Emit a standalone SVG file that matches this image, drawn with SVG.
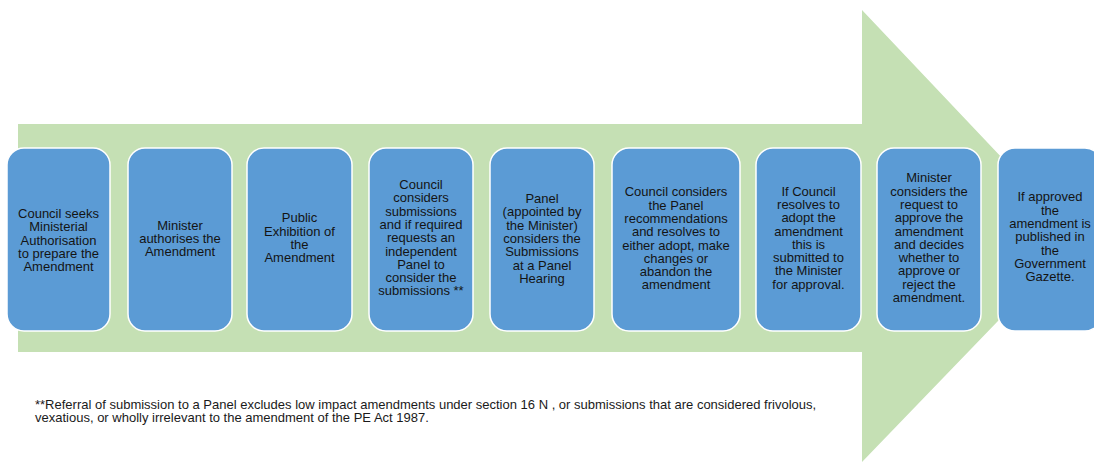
<svg xmlns="http://www.w3.org/2000/svg" width="1094" height="462" viewBox="0 0 1094 462">
  <style>
    .step rect { fill: #5B9BD5; stroke: #FFFFFF; stroke-width: 1.5; }
    .step text { font-family: "Liberation Sans", Arial, sans-serif; font-size: 13px; fill: #141414; text-anchor: middle; }
    .note { font-family: "Liberation Sans", Arial, sans-serif; font-size: 13px; fill: #1a1a1a; }
  </style>
  <rect width="1094" height="462" fill="#FFFFFF"/>

  <!-- large process arrow behind the steps -->
  <g id="connectors">
    <polygon points="18,124 862,124 862,10 1078,238 862,462 862,352 18,352" fill="#C5E0B4"/>
  </g>

  <g id="step1" class="step">
    <rect x="7" y="148" width="103" height="183" rx="17"/>
    <text y="218"><tspan x="58.5">Council seeks</tspan><tspan x="58.5" dy="13.3">Ministerial</tspan><tspan x="58.5" dy="13.3">Authorisation</tspan><tspan x="58.5" dy="13.3">to prepare the</tspan><tspan x="58.5" dy="13.3">Amendment</tspan></text>
  </g>
  <g id="step2" class="step">
    <rect x="128" y="148" width="104" height="183" rx="17"/>
    <text y="229.6"><tspan x="180">Minister</tspan><tspan x="180" dy="13.3">authorises the</tspan><tspan x="180" dy="13.3">Amendment</tspan></text>
  </g>
  <g id="step3" class="step">
    <rect x="247" y="148" width="105" height="183" rx="17"/>
    <text y="222.3"><tspan x="299.5">Public</tspan><tspan x="299.5" dy="13.3">Exhibition of</tspan><tspan x="299.5" dy="13.3">the</tspan><tspan x="299.5" dy="13.3">Amendment</tspan></text>
  </g>
  <g id="step4" class="step">
    <rect x="369" y="148" width="104" height="183" rx="17"/>
    <text y="189"><tspan x="421">Council</tspan><tspan x="421" dy="13.3">considers</tspan><tspan x="421" dy="13.3">submissions</tspan><tspan x="421" dy="13.3">and if required</tspan><tspan x="421" dy="13.3">requests an</tspan><tspan x="421" dy="13.3">independent</tspan><tspan x="421" dy="13.3">Panel to</tspan><tspan x="421" dy="13.3">consider the</tspan><tspan x="421" dy="13.3">submissions **</tspan></text>
  </g>
  <g id="step5" class="step">
    <rect x="490" y="148" width="104" height="183" rx="17"/>
    <text y="203"><tspan x="542">Panel</tspan><tspan x="542" dy="13.3">(appointed by</tspan><tspan x="542" dy="13.3">the Minister)</tspan><tspan x="542" dy="13.3">considers the</tspan><tspan x="542" dy="13.3">Submissions</tspan><tspan x="542" dy="13.3">at a Panel</tspan><tspan x="542" dy="13.3">Hearing</tspan></text>
  </g>
  <g id="step6" class="step">
    <rect x="612" y="148" width="128" height="183" rx="17"/>
    <text y="196.3"><tspan x="676">Council considers</tspan><tspan x="676" dy="13.3">the Panel</tspan><tspan x="676" dy="13.3">recommendations</tspan><tspan x="676" dy="13.3">and resolves to</tspan><tspan x="676" dy="13.3">either adopt, make</tspan><tspan x="676" dy="13.3">changes or</tspan><tspan x="676" dy="13.3">abandon the</tspan><tspan x="676" dy="13.3">amendment</tspan></text>
  </g>
  <g id="step7" class="step">
    <rect x="756" y="148" width="105" height="183" rx="17"/>
    <text y="195.6"><tspan x="808.5">If Council</tspan><tspan x="808.5" dy="13.3">resolves to</tspan><tspan x="808.5" dy="13.3">adopt the</tspan><tspan x="808.5" dy="13.3">amendment</tspan><tspan x="808.5" dy="13.3">this is</tspan><tspan x="808.5" dy="13.3">submitted to</tspan><tspan x="808.5" dy="13.3">the Minister</tspan><tspan x="808.5" dy="13.3">for approval.</tspan></text>
  </g>
  <g id="step8" class="step">
    <rect x="877" y="148" width="104" height="183" rx="17"/>
    <text y="182.3"><tspan x="929">Minister</tspan><tspan x="929" dy="13.3">considers the</tspan><tspan x="929" dy="13.3">request to</tspan><tspan x="929" dy="13.3">approve the</tspan><tspan x="929" dy="13.3">amendment</tspan><tspan x="929" dy="13.3">and decides</tspan><tspan x="929" dy="13.3">whether to</tspan><tspan x="929" dy="13.3">approve or</tspan><tspan x="929" dy="13.3">reject the</tspan><tspan x="929" dy="13.3">amendment.</tspan></text>
  </g>
  <g id="step9" class="step">
    <rect x="998" y="148" width="104" height="183" rx="17"/>
    <text y="201.3"><tspan x="1050">If approved</tspan><tspan x="1050" dy="13.3">the</tspan><tspan x="1050" dy="13.3">amendment is</tspan><tspan x="1050" dy="13.3">published in</tspan><tspan x="1050" dy="13.3">the</tspan><tspan x="1050" dy="13.3">Government</tspan><tspan x="1050" dy="13.3">Gazette.</tspan></text>
  </g>

  <g id="footnote">
    <text class="note" x="35" y="409">**Referral of submission to a Panel excludes low impact amendments under section 16 N , or submissions that are considered frivolous,</text>
    <text class="note" x="35" y="422">vexatious, or wholly irrelevant to the amendment of the PE Act 1987.</text>
  </g>
</svg>
